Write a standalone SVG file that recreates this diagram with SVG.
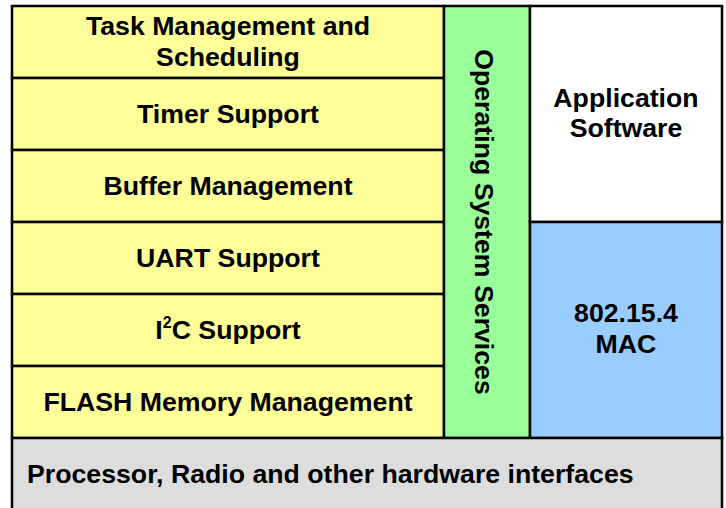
<svg xmlns="http://www.w3.org/2000/svg" width="726" height="508" viewBox="0 0 726 508">
<style>
.box{stroke:#000;stroke-width:2.5}
.y{fill:#FFFF99}
.t{font-family:"Liberation Sans",Arial,sans-serif;font-weight:bold;font-size:26.7px;fill:#000;text-anchor:middle}
</style>
<rect width="726" height="508" fill="#fff"/>
<g id="task"><rect class="box y" x="12" y="6" width="432" height="72"/><text class="t" x="228" y="35">Task Management and</text><text class="t" x="228" y="66">Scheduling</text></g>
<g id="timer"><rect class="box y" x="12" y="78" width="432" height="72"/><text class="t" x="228" y="123">Timer Support</text></g>
<g id="buffer"><rect class="box y" x="12" y="150" width="432" height="72"/><text class="t" x="228" y="195">Buffer Management</text></g>
<g id="uart"><rect class="box y" x="12" y="222" width="432" height="72"/><text class="t" x="228" y="267">UART Support</text></g>
<g id="i2c"><rect class="box y" x="12" y="294" width="432" height="72"/><text class="t" x="228" y="339">I<tspan font-size="16" dy="-11">2</tspan><tspan dy="11">C Support</tspan></text></g>
<g id="flash"><rect class="box y" x="12" y="366" width="432" height="72"/><text class="t" x="228" y="411">FLASH Memory Management</text></g>
<g id="os"><rect class="box" fill="#99FF99" x="444" y="6" width="86" height="432"/><text class="t" transform="translate(475,222) rotate(90)">Operating System Services</text></g>
<g id="app"><rect class="box" fill="#FFFFFF" x="530" y="6" width="192" height="216"/><text class="t" x="626" y="107">Application</text><text class="t" x="626" y="137">Software</text></g>
<g id="mac"><rect class="box" fill="#99CCFF" x="530" y="222" width="192" height="216"/><text class="t" x="626" y="322">802.15.4</text><text class="t" x="626" y="353">MAC</text></g>
<g id="hw"><rect class="box" fill="#DDDDDD" x="12" y="438" width="710" height="76"/><text class="t" style="text-anchor:start" x="27" y="483">Processor, Radio and other hardware interfaces</text></g>
</svg>
